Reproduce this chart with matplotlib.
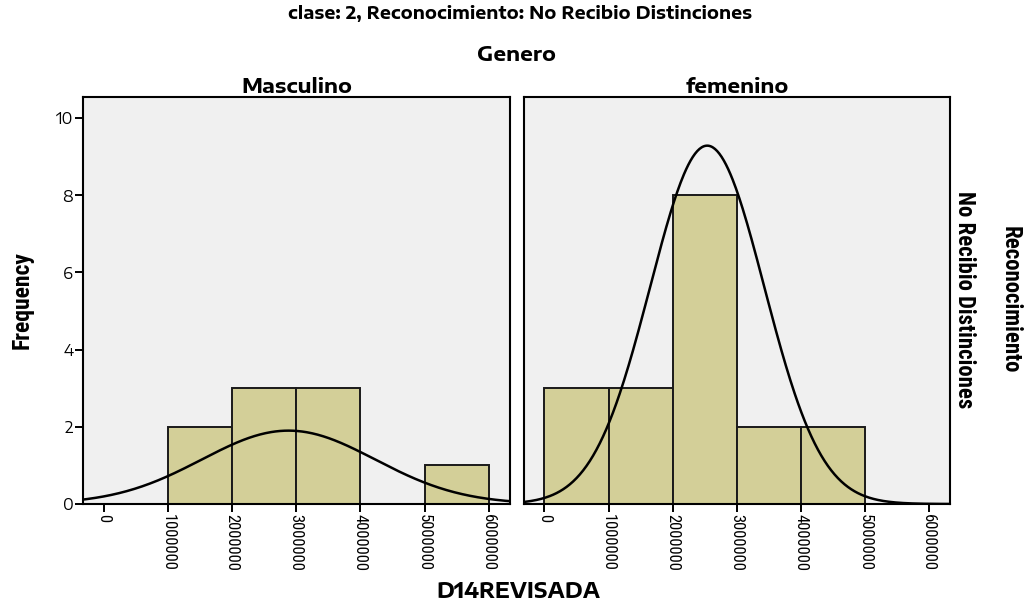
import matplotlib

matplotlib.use("Agg")
import matplotlib.pyplot as plt
import numpy as np
from matplotlib import font_manager as fm

# histogram bins (left edges, in units of money) and counts per panel
bin_width = 1000000
masc_edges = [1000000, 2000000, 3000000, 5000000]
masc_counts = [2, 3, 3, 1]
fem_edges = [0, 1000000, 2000000, 3000000, 4000000]
fem_counts = [3, 3, 8, 2, 2]

# fitted normal curve parameters (mean, sd, peak height)
masc_fit = (2.88e6, 1.35e6, 1.90)
fem_fit = (2.54e6, 0.89e6, 9.28)

x_ticks = [0, 1000000, 2000000, 3000000, 4000000, 5000000, 6000000]
y_ticks = [0, 2, 4, 6, 8, 10]

BAR = "#d3cf98"
FACE = "#f0f0f0"


def pick(prefs):
    available = {f.name for f in fm.fontManager.ttflist}
    return [n for n in prefs if n in available][:1] + ["Liberation Sans", "DejaVu Sans"]


# the reference is stretched sideways: wide faces for flat text, narrow for rotated
WIDE = pick(["Encode Sans Expanded", "Encode Sans Semi Expanded", "Arimo"])
NARROW = pick(["Roboto Condensed", "Archivo Narrow", "PT Sans Narrow"])

fig = plt.figure(figsize=(10.25, 6.03), dpi=100)
ax1 = fig.add_axes([83 / 1025, 99 / 603, 427 / 1025, 407 / 603])
ax2 = fig.add_axes([524 / 1025, 99 / 603, 426 / 1025, 407 / 603])


def draw_panel(ax, edges, counts, fit, title, show_y):
    ax.set_facecolor(FACE)
    ax.bar(edges, counts, width=bin_width, align="edge", color=BAR,
           edgecolor="#1a1a1a", linewidth=1.4, zorder=2)
    mu, sd, peak = fit
    xs = np.linspace(-0.4e6, 6.5e6, 400)
    ax.plot(xs, peak * np.exp(-0.5 * ((xs - mu) / sd) ** 2),
            color="black", linewidth=1.8, zorder=3)
    ax.set_xlim(-0.32e6, 6.33e6)
    ax.set_ylim(0, 10.54)
    ax.set_xticks(x_ticks)
    ax.set_xticklabels([str(t) for t in x_ticks], rotation=270,
                       fontsize=12, family=NARROW)
    ax.set_yticks(y_ticks)
    if show_y:
        ax.set_yticklabels([str(t) for t in y_ticks], fontsize=11, family=WIDE)
    else:
        ax.tick_params(axis="y", left=False, labelleft=False)
    ax.tick_params(axis="both", direction="out", length=6, width=1.4,
                   colors="black", pad=1)
    for s in ax.spines.values():
        s.set_linewidth(1.5)
        s.set_color("black")
    ax.set_title(title, fontsize=14.5, fontweight="bold", family=WIDE, pad=1)


draw_panel(ax1, masc_edges, masc_counts, masc_fit, "Masculino", True)
draw_panel(ax2, fem_edges, fem_counts, fem_fit, "femenino", False)

fig.text(520 / 1025, 1 - 14 / 603, "clase: 2, Reconocimiento: No Recibio Distinciones",
         ha="center", va="center", fontsize=12.5, fontweight="bold", family=WIDE)
fig.text(517 / 1025, 1 - 55 / 603, "Genero", ha="center", va="center",
         fontsize=14.5, fontweight="bold", family=WIDE)
fig.text(22 / 1025, 1 - 300 / 603, "Frequency", ha="center", va="center",
         rotation=90, fontsize=17, fontweight="bold", family=NARROW)
fig.text(518 / 1025, 1 - 592 / 603, "D14REVISADA", ha="center", va="center",
         fontsize=15, fontweight="bold", family=WIDE)
fig.text(964 / 1025, 1 - 300 / 603, "No Recibio Distinciones", ha="center",
         va="center", rotation=270, fontsize=16.5, fontweight="bold", family=NARROW)
fig.text(1010 / 1025, 1 - 300 / 603, "Reconocimiento", ha="center", va="center",
         rotation=270, fontsize=16.5, fontweight="bold", family=NARROW)

fig.savefig("out.png", dpi=100)
plt.close(fig)
